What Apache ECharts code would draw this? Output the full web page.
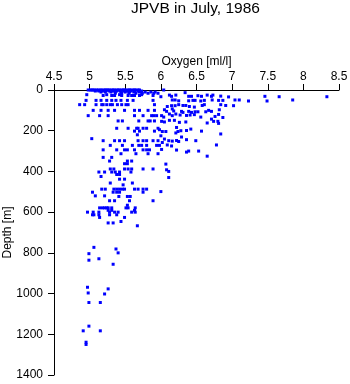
<!DOCTYPE html>
<html>
<head>
<meta charset="utf-8">
<script src="https://cdn.jsdelivr.net/npm/echarts@6/dist/echarts.min.js"></script>
<style>
html,body{margin:0;padding:0;background:#fff;}
#chart{width:350px;height:384px;}
</style>
</head>
<body>
<div id="chart"></div>
<script>
// Oxygen [ml/l] values and matching depths [m]
var oxygen = [
  // surface band
  4.98,5.01,5.03,5.05,5.07,5.10,5.12,5.15,5.17,5.20,5.22,5.24,5.26,5.28,5.31,5.33,5.35,5.38,5.40,5.42,5.45,5.47,5.49,5.51,5.54,5.56,5.58,5.61,5.63,5.65,5.68,5.70,6.04,
  5.08,5.13,5.18,5.23,5.28,5.33,5.38,5.43,5.48,5.53,5.58,5.63,5.68,5.73,
  5.16,5.22,5.30,5.36,5.44,5.50,5.56,5.62,5.70,5.78,5.86,5.92,
  5.36,5.45,5.55,5.65,5.74,5.82,5.90,5.96,
  4.96,5.24,5.42,5.73,
  5.19,5.31,5.35,5.45,5.54,5.59,5.63,5.70,5.89,
  4.95,5.09,5.16,5.24,5.31,5.37,5.44,5.53,5.61,5.89,
  4.86,4.93,5.09,5.17,5.19,5.24,5.29,5.32,5.39,5.45,5.51,5.54,5.91,
  5.05,5.16,5.26,5.35,5.49,5.63,5.70,5.82,5.91,
  4.98,5.14,5.26,5.63,5.75,5.87,5.90,5.94,
  5.40,5.46,5.69,5.82,5.85,5.91,
  5.38,5.54,5.66,5.68,5.75,5.80,5.96,
  5.63,5.70,5.91,
  5.67,5.03,
  5.19,5.35,5.42,5.49,5.68,5.75,5.80,5.89,5.96,
  5.29,5.46,5.60,5.69,5.73,5.80,5.94,5.98,
  5.19,5.38,5.49,5.53,5.63,5.75,5.80,5.84,
  5.44,5.65,5.82,5.96,
  5.19,5.31,
  5.28,5.53,5.59,
  5.49,5.53,
  5.29,5.34,5.49,5.54,5.59,5.75,5.89,
  5.13,5.21,5.31,5.36,5.42,5.58,
  5.38,5.42,
  5.16,
  5.42,5.49,
  5.29,5.60,
  5.47,
  5.17,5.22,5.34,5.38,5.42,5.46,5.49,5.63,5.68,5.75,5.80,
  5.04,5.33,5.38,5.42,5.75,
  5.08,5.21,
  5.41,5.53,5.57,
  5.28,5.35,5.56,5.89,
  5.53,
  5.14,5.18,5.21,5.24,5.26,5.31,5.51,5.54,5.64,
  5.26,5.31,5.63,
  4.97,5.05,5.13,5.28,5.35,5.40,5.59,5.64,
  5.04,5.06,5.13,5.28,5.38,
  5.14,5.49,
  5.44,
  5.26,5.33,
  5.67,
  5.06,5.37,5.40,4.99,5.13,4.99,5.33,
  4.97,5.26,4.98,5.21,4.99,5.15,
  4.99,4.91,5.15,4.95,4.95,
  // higher oxygen group
  6.34,6.00,6.12,6.21,6.15,6.39,6.43,6.52,6.57,6.65,6.73,6.71,6.84,6.95,
  7.04,7.10,7.23,7.46,7.49,7.66,7.85,8.33,
  6.16,6.20,6.25,6.39,6.45,6.48,6.56,6.61,6.72,6.81,6.87,
  6.25,6.09,6.15,6.20,6.31,6.35,6.40,6.47,6.58,6.61,6.84,6.91,7.02,
  6.05,6.08,6.16,6.18,6.29,6.31,6.39,6.43,6.48,6.52,6.63,6.67,6.71,6.82,
  6.01,6.04,6.12,6.16,6.21,6.27,6.36,6.41,6.47,6.56,6.76,6.81,6.87,
  6.01,6.05,6.12,6.19,6.26,6.35,6.65,6.71,6.74,6.80,6.81,
  5.98,6.02,6.07,6.22,6.21,6.24,6.28,6.36,6.42,6.57,6.84,
  6.00,6.02,6.05,6.11,6.16,6.22,6.25,6.29,6.36,6.49,6.78,6.09,6.15,
  6.01,6.22,6.36,6.39,6.53,6.65,
  6.07,6.08,6.11,6.11,6.00
];
var depth = [
  0,0,0,0,0,0,0,0,0,0,0,0,0,0,0,0,0,0,0,0,0,0,0,0,0,0,0,0,0,0,0,0,0,
  5,5,5,5,5,5,5,5,5,5,5,5,5,5,
  10,10,10,10,10,10,10,10,10,10,10,10,
  16,16,16,16,16,16,16,16,
  23,23,23,23,
  27,27,27,27,27,27,27,27,27,
  51,51,51,51,51,51,51,51,51,51,
  72,72,72,72,72,72,72,72,72,72,72,72,72,
  100,100,100,100,100,100,100,100,100,
  126,126,126,126,126,126,126,126,
  152,152,152,152,152,152,
  188,188,188,188,188,188,188,
  202,202,202,
  220,239,
  249,249,249,249,249,249,249,249,249,
  272,272,272,272,272,272,272,272,
  294,294,294,294,294,294,294,294,
  313,313,313,313,
  331,331,
  349,349,349,
  362,362,
  388,388,388,388,388,388,388,
  403,403,403,403,403,403,
  415,415,
  425,
  438,438,
  457,457,
  466,
  487,487,487,487,487,487,487,487,487,487,487,
  502,502,502,502,502,
  520,520,
  523,523,523,
  544,544,544,544,
  566,
  579,579,579,579,579,579,579,579,579,
  591,591,591,
  600,600,600,600,600,600,600,600,
  613,613,613,613,613,
  626,626,
  646,
  653,653,
  667,
  773,781,800,804,829,836,856,
  969,977,997,1002,1044,1044,
  1160,1183,1183,1239,1250,
  // higher oxygen group
  13,33,25,25,31,31,31,28,31,25,25,31,30,34,
  49,49,54,31,54,33,49,33,
  49,49,53,53,51,51,54,51,49,51,51,
  72,81,77,77,76,76,81,84,76,72,72,76,77,
  97,105,93,103,105,110,105,110,107,107,107,100,105,97,
  126,133,118,126,118,123,125,123,121,133,130,120,135,
  154,157,149,149,159,157,162,143,154,154,164,
  195,204,204,184,211,204,200,199,192,202,216,
  225,258,241,249,251,248,253,231,244,249,270,270,275,
  292,295,305,300,300,325,
  364,392,400,430,499
];
var xTicks = {min: 4.5, max: 8.5, step: 0.5};
var yTicks = {min: 0, max: 1400, step: 200};

var points = oxygen.map(function (o, i) { return [o, depth[i]]; });

var FONT = "'Liberation Sans', Arial, Helvetica, sans-serif";
var chart = echarts.init(document.getElementById('chart'), null, {renderer: 'canvas'});
chart.setOption({
  animation: false,
  backgroundColor: '#ffffff',
  title: {
    text: 'JPVB in July, 1986',
    left: 131,
    top: 1,
    padding: 0,
    textStyle: {fontFamily: FONT, fontSize: 15.5, fontWeight: 'normal', color: '#000'}
  },
  grid: {left: 54, right: 11, top: 90, bottom: 9, containLabel: false, outerBoundsMode: 'none'},
  xAxis: {
    type: 'value',
    position: 'top',
    min: xTicks.min, max: xTicks.max, interval: xTicks.step,
    name: 'Oxygen [ml/l]',
    nameLocation: 'middle',
    nameGap: 22,
    nameMoveOverlap: false,
    nameTextStyle: {fontFamily: FONT, fontSize: 12, color: '#000'},
    axisLine: {show: true, onZero: false, lineStyle: {color: '#000', width: 1}},
    axisTick: {show: true, inside: false, length: 6, lineStyle: {color: '#000'}},
    axisLabel: {fontFamily: FONT, fontSize: 12, color: '#000', margin: 7},
    splitLine: {show: false}
  },
  yAxis: {
    type: 'value',
    inverse: true,
    min: yTicks.min, max: yTicks.max, interval: yTicks.step,
    name: 'Depth [m]',
    nameLocation: 'middle',
    nameGap: 40,
    nameMoveOverlap: false,
    nameRotate: 90,
    nameTextStyle: {fontFamily: FONT, fontSize: 12, color: '#000'},
    axisLine: {show: true, onZero: false, lineStyle: {color: '#000', width: 1}},
    axisTick: {show: true, inside: false, length: 6, lineStyle: {color: '#000'}},
    axisLabel: {fontFamily: FONT, fontSize: 12, color: '#000', margin: 11,
      formatter: function (v) { return String(v); }},
    splitLine: {show: false}
  },
  series: [{
    type: 'scatter',
    data: points,
    symbol: 'rect',
    symbolSize: 3,
    itemStyle: {color: '#0000ff', opacity: 1},
    emphasis: {disabled: true}
  }]
});
</script>
</body>
</html>
